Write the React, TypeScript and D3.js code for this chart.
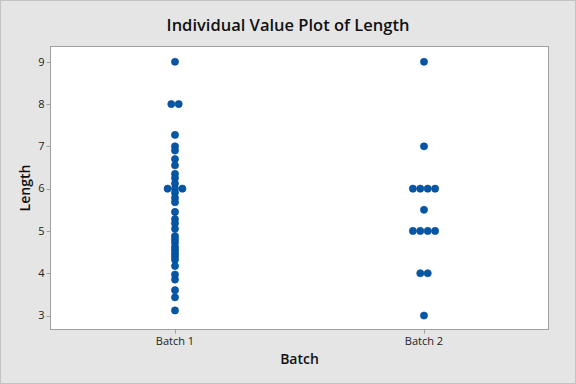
import React from "react";
import * as d3 from "d3";

const categories = ["Batch 1", "Batch 2"];
const batch1 = [9.0, 8.0, 8.0, 7.27, 7.0, 6.9, 6.7, 6.55, 6.35, 6.25, 6.12, 6.0, 6.0, 6.0, 5.9, 5.78, 5.68, 5.45, 5.28, 5.18, 5.05, 4.88, 4.8, 4.72, 4.62, 4.55, 4.47, 4.4, 4.32, 4.17, 3.97, 3.85, 3.6, 3.43, 3.12];
const batch2 = [9, 7, 6, 6, 6, 6, 5.5, 5, 5, 5, 5, 4, 4, 3];
const yTicks = [3, 4, 5, 6, 7, 8, 9];
const title = "Individual Value Plot of Length";
const xTitle = "Batch";
const yTitle = "Length";

const W = 576, H = 384;
const plot = { left: 50.5, right: 548.5, top: 46.5, bottom: 329.5 };
const FONT = "'Open Sans', 'DejaVu Sans', sans-serif";

export default function App() {
  const x = d3.scalePoint<string>().domain(categories).range([plot.left, plot.right]).padding(0.5);
  const y = d3.scaleLinear().domain([2.67, 9.36]).range([plot.bottom, plot.top]);
  const series = [batch1, batch2];
  const dotR = 3.6;
  const gap = 7.4;

  const dots: { cx: number; cy: number; key: string }[] = [];
  series.forEach((vals, si) => {
    const groups = d3.group(vals, (v) => v);
    groups.forEach((arr, v) => {
      const n = arr.length;
      arr.forEach((_, i) => {
        dots.push({
          cx: (x(categories[si]) as number) + (i - (n - 1) / 2) * gap,
          cy: y(v),
          key: `${si}-${v}-${i}`,
        });
      });
    });
  });

  return (
    <svg width={W} height={H} style={{ position: "absolute", left: 0, top: 0, display: "block" }}>
      <rect x={0.5} y={0.5} width={W - 1} height={H - 1} fill="#e5e5e5" stroke="#c3c3c3" />
      <text x={W / 2} y={31} textAnchor="middle" fontFamily={FONT} fontSize={16.5} fontWeight={600} fill="#111">
        {title}
      </text>
      <rect x={plot.left} y={plot.top} width={plot.right - plot.left} height={plot.bottom - plot.top} fill="#fff" stroke="#a0a0a0" />
      {yTicks.map((t) => (
        <g key={t}>
          <line x1={plot.left - 4} x2={plot.left} y1={Math.round(y(t)) + 0.5} y2={Math.round(y(t)) + 0.5} stroke="#a0a0a0" />
          <text x={plot.left - 6} y={y(t)} dy="0.35em" textAnchor="end" fontFamily={FONT} fontSize={11} fill="#222">
            {t}
          </text>
        </g>
      ))}
      {categories.map((c) => (
        <g key={c}>
          <line x1={Math.round(x(c) as number) + 0.5} x2={Math.round(x(c) as number) + 0.5} y1={plot.bottom} y2={plot.bottom + 4} stroke="#a0a0a0" />
          <text x={x(c)} y={345} textAnchor="middle" fontFamily={FONT} fontSize={11} fill="#222">
            {c}
          </text>
        </g>
      ))}
      <text x={(plot.left + plot.right) / 2} y={364} textAnchor="middle" fontFamily={FONT} fontSize={14} fontWeight={600} fill="#111">
        {xTitle}
      </text>
      <text transform={`translate(30, ${(plot.top + plot.bottom) / 2}) rotate(-90)`} textAnchor="middle" fontFamily={FONT} fontSize={14} fontWeight={600} fill="#111">
        {yTitle}
      </text>
      {dots.map((d) => (
        <circle key={d.key} cx={d.cx} cy={d.cy} r={dotR} fill="#0656a6" stroke="#044a8f" strokeWidth={0.6} />
      ))}
    </svg>
  );
}
